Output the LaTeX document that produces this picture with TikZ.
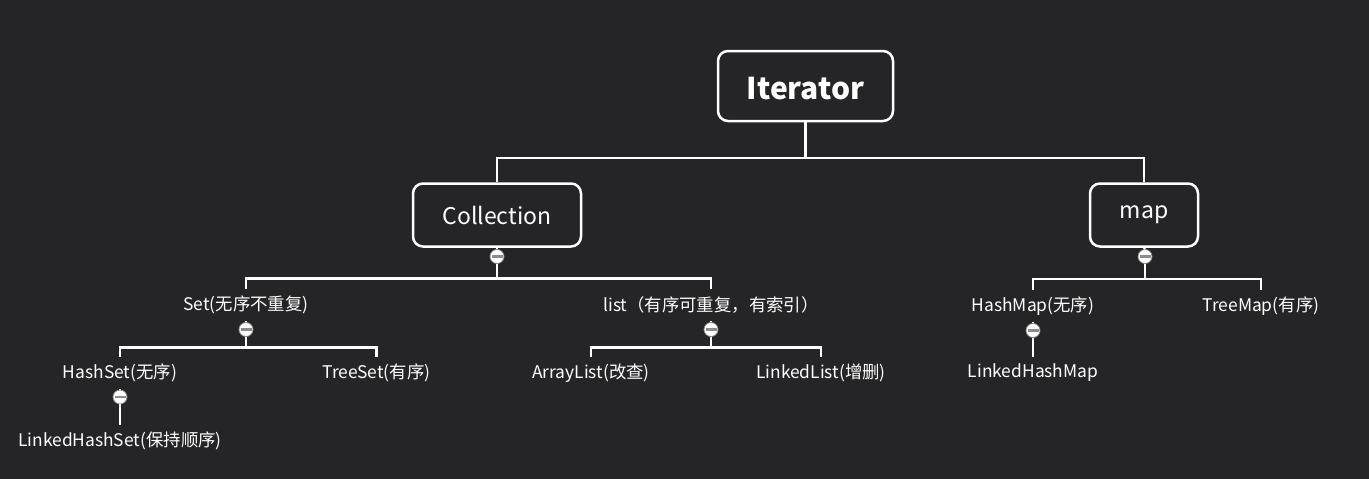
\documentclass[tikz,border=0pt]{standalone}
\usepackage{fontspec}
\setmainfont{Noto Sans CJK SC}
\definecolor{bg}{HTML}{252527}
\definecolor{foldgray}{HTML}{8C8C8C}
\begin{document}
\begin{tikzpicture}[x=1pt,y=-1pt,
  conn/.style={draw=white, line width=2.2pt},
  bigbox/.style={draw=white, line width=2.5pt, rounded corners=10pt, fill=bg, text=white, inner sep=0pt},
  leaf/.style={text=white, font=\fontsize{17.4}{21}\selectfont, inner sep=0pt, minimum height=32pt},
  fold/.style={circle, fill=white, draw=foldgray, line width=0.8pt, minimum size=14pt, inner sep=0pt,
    path picture={\draw[foldgray, line width=2.4pt] ([xshift=-5.5pt]path picture bounding box.center) -- ([xshift=5.5pt]path picture bounding box.center);}}
]
\fill[bg] (0,0) rectangle (1369,479);
\useasboundingbox (0,0) rectangle (1369,479);

% main boxes
\node[bigbox, minimum width=175pt, minimum height=70pt, text height=27pt, text depth=1pt, font=\bfseries\fontsize{30}{36}\selectfont] (iter) at (805.5,86) {Iterator};
\node[bigbox, minimum width=168pt, minimum height=63pt, font=\fontsize{23}{28}\selectfont] (coll) at (497,215) {Collection};
\node[bigbox, minimum width=108pt, minimum height=63pt, font=\fontsize{23}{28}\selectfont] (map) at (1144,215) {map};

% leaves
\node[leaf] (setn) at (246,305) {Set(无序不重复)};
\node[leaf] (listn) at (711,305) {list（有序可重复，有索引）};
\node[leaf] (hset) at (120,373) {HashSet(无序)};
\node[leaf] (tset) at (376.5,373) {TreeSet(有序)};
\node[leaf] (lhset) at (120,441) {LinkedHashSet(保持顺序)};
\node[leaf] (alist) at (591,373) {ArrayList(改查)};
\node[leaf] (llist) at (821,373) {LinkedList(增删)};
\node[leaf] (hmap) at (1033,306) {HashMap(无序)};
\node[leaf] (tmap) at (1261,306) {TreeMap(有序)};
\node[leaf] (lhmap) at (1033,373) {LinkedHashMap};

% fold icons
\node[fold] (fcoll) at (497,256.5) {};
\node[fold] (fmap) at (1145,256.5) {};
\node[fold] (fset) at (246,329.5) {};
\node[fold] (flist) at (711,329.5) {};
\node[fold] (fhset) at (120,397) {};
\node[fold] (fhmap) at (1033,330.5) {};

% connectors
\draw[conn] (iter.south) -- ++(0,36) coordinate (j0);
\draw[conn] (coll.north) |- (j0) -| (map.north);

\draw[conn] (coll.south) -- (fcoll.north);
\draw[conn] (fcoll.south) -- ++(0,14.5) coordinate (j1);
\draw[conn] (setn.north) |- (j1) -| (listn.north);

\draw[conn] (map.south) -- (fmap.north);
\draw[conn] (fmap.south) -- ++(0,15) coordinate (j2);
\draw[conn] (hmap.north) |- (j2) -| (tmap.north);

\draw[conn] (setn.south) -- (fset.north);
\draw[conn] (fset.south) -- ++(0,10.5) coordinate (j3);
\draw[conn] (hset.north) |- (j3) -| (tset.north);

\draw[conn] (listn.south) -- (flist.north);
\draw[conn] (flist.south) -- ++(0,10.5) coordinate (j4);
\draw[conn] (alist.north) |- (j4) -| (llist.north);

\draw[conn] (hset.south) -- (fhset.north);
\draw[conn] (fhset.south) -- (lhset.north);

\draw[conn] (hmap.south) -- (fhmap.north);
\draw[conn] (fhmap.south) -- (lhmap.north);
\end{tikzpicture}
\end{document}
